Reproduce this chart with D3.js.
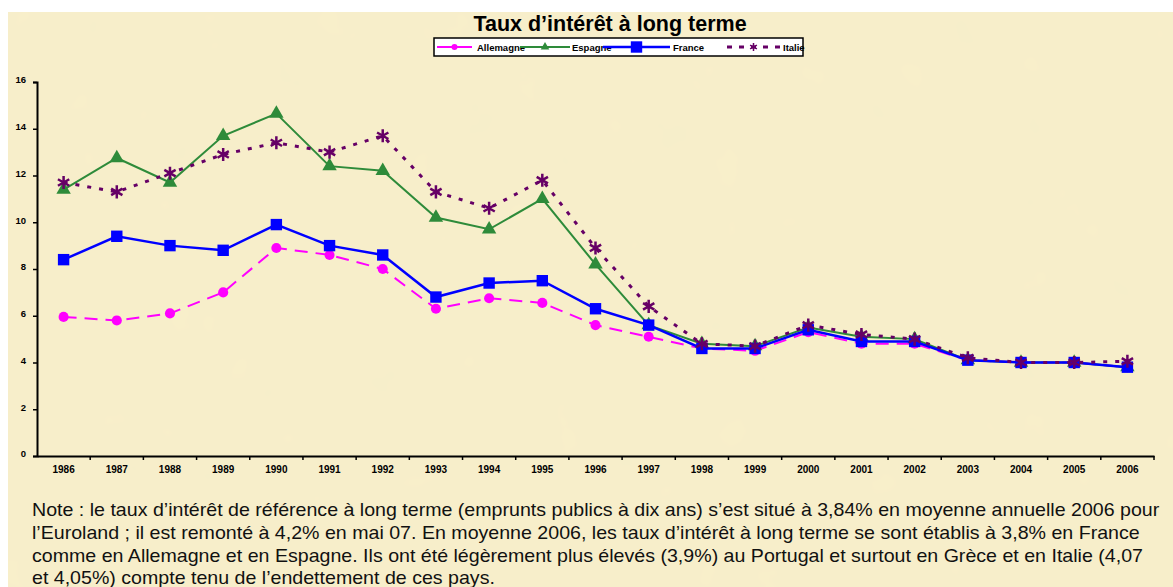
<!DOCTYPE html>
<meta charset="utf-8">
<style>
  body { margin: 0; background: #fff; }
  svg text { font-family: "Liberation Sans", Arial, sans-serif; }
  .tick text { font-weight: bold; fill: #000; }
</style>
<body>
<script src="https://d3js.org/d3.v7.min.js"></script>
<div id="chart"></div>
<script>
// données
var years = ["1986","1987","1988","1989","1990","1991","1992","1993","1994","1995","1996",
             "1997","1998","1999","2000","2001","2002","2003","2004","2005","2006"];
var allemagne = [5.95, 5.8, 6.1, 7.0, 8.9, 8.6, 8.0, 6.3, 6.75, 6.55, 5.6, 5.1, 4.6, 4.5, 5.3, 4.8, 4.8, 4.1, 4.0, 4.0, 3.8];
var espagne   = [11.4, 12.75, 11.7, 13.7, 14.65, 12.4, 12.2, 10.2, 9.7, 11.0, 8.2, 5.6, 4.8, 4.7, 5.5, 5.1, 5.0, 4.1, 4.0, 4.0, 3.8];
var france    = [8.4, 9.4, 9.0, 8.8, 9.9, 9.0, 8.6, 6.8, 7.4, 7.5, 6.3, 5.6, 4.6, 4.6, 5.4, 4.9, 4.9, 4.1, 4.0, 4.0, 3.8];
var italie    = [11.7, 11.3, 12.1, 12.9, 13.4, 13.0, 13.7, 11.3, 10.6, 11.8, 8.9, 6.4, 4.8, 4.7, 5.6, 5.2, 5.0, 4.2, 4.0, 4.0, 4.05];
var yTicks = [0, 2, 4, 6, 8, 10, 12, 14, 16];

var noteLines = [
  "Note : le taux d\u2019intérêt de référence à long terme (emprunts publics à dix ans) s\u2019est situé à 3,84% en moyenne annuelle 2006 pour",
  "l\u2019Euroland ; il est remonté à 4,2% en mai 07. En moyenne 2006, les taux d\u2019intérêt à long terme se sont établis à 3,8% en France",
  "comme en Allemagne et en Espagne. Ils ont été légèrement plus élevés (3,9%) au Portugal et surtout en Grèce et en Italie (4,07",
  "et 4,05%) compte tenu de l\u2019endettement de ces pays."
];

var series = [
  {name: "Allemagne", values: allemagne, color: "#ff00ff", width: 2, dash: "13,8", marker: "circle"},
  {name: "Espagne",   values: espagne,   color: "#2e8b3a", width: 2, dash: null,   marker: "triangle"},
  {name: "France",    values: france,    color: "#0000ff", width: 2.5, dash: null, marker: "square"},
  {name: "Italie",    values: italie,    color: "#660066", width: 3, dash: "4,8",  marker: "star"}
];

var width = 1173, height = 587;
var svg = d3.select("#chart").append("svg")
    .attr("width", width).attr("height", height);

// fond papier
var defs = svg.append("defs");
var filt = defs.append("filter").attr("id", "paper").attr("x", 0).attr("y", 0)
    .attr("width", "100%").attr("height", "100%");
filt.append("feTurbulence").attr("type", "fractalNoise").attr("baseFrequency", 0.02)
    .attr("numOctaves", 3).attr("seed", 4).attr("result", "noise");
filt.append("feColorMatrix").attr("in", "noise").attr("type", "matrix")
    .attr("values", "0 0 0 0 0.80  0 0 0 0 0.76  0 0 0 0 0.55  0 0 0 0.10 0")
    .attr("result", "tint");
filt.append("feComposite").attr("in", "tint").attr("in2", "SourceGraphic").attr("operator", "over");

svg.append("rect").attr("x", 8).attr("y", 12).attr("width", width - 8).attr("height", height - 12)
    .attr("fill", "#f8efca").attr("filter", "url(#paper)");

var margin = {left: 37, right: 19, top: 82, bottom: 131};

var x = d3.scaleBand().domain(years).range([margin.left, width - margin.right]);
var y = d3.scaleLinear().domain([0, 16]).range([height - margin.bottom, margin.top]);

// titre
svg.append("text").attr("x", 610).attr("y", 31).attr("text-anchor", "middle")
    .style("font-weight", "bold").style("font-size", "21.5px").text("Taux d\u2019intérêt à long terme");

// axes
var yAxis = svg.append("g").attr("transform", "translate(" + margin.left + ",0)")
    .call(d3.axisLeft(y).tickValues(yTicks).tickSize(4).tickPadding(7));
yAxis.selectAll("text").attr("dy", "0.1em").style("font-size", "9.5px");

var xAxis = svg.append("g").attr("transform", "translate(0," + y(0) + ")")
    .call(d3.axisBottom(x).tickSize(0).tickPadding(10));
xAxis.selectAll("text").style("font-size", "10px");
xAxis.selectAll(".tick").append("line")
    .attr("x1", x.bandwidth() / 2).attr("x2", x.bandwidth() / 2)
    .attr("y1", 0).attr("y2", 4).attr("stroke", "#000").attr("stroke-width", 1.5);

svg.selectAll(".domain").attr("stroke", "#000").attr("stroke-width", 2);
yAxis.selectAll(".tick line").attr("stroke-width", 1.5);

var cx = function(i) { return x(years[i]) + x.bandwidth() / 2; };

var line = d3.line()
    .x(function(d, i) { return cx(i); })
    .y(function(d) { return y(d); });

var symbols = {
  circle: d3.symbol().type(d3.symbolCircle).size(80),
  triangle: d3.symbol().type(d3.symbolTriangle).size(90),
  square: d3.symbol().type(d3.symbolSquare).size(130),
  star: d3.symbol().type(d3.symbolAsterisk).size(120)
};

function drawMarker(g, s, px, py, scale) {
  var p = g.append("path")
      .attr("transform", "translate(" + px + "," + py + ")" + (scale ? " scale(" + scale + ")" : ""))
      .attr("d", symbols[s.marker]());
  if (s.marker === "star") {
    p.attr("fill", "none").attr("stroke", s.color).attr("stroke-width", 2.5);
  } else {
    p.attr("fill", s.color);
  }
}

// ordre de dessin : Allemagne, Espagne, France, Italie
series.forEach(function(s) {
  var g = svg.append("g");
  g.append("path").datum(s.values).attr("d", line)
      .attr("fill", "none").attr("stroke", s.color).attr("stroke-width", s.width)
      .attr("stroke-dasharray", s.dash);
  s.values.forEach(function(v, i) { drawMarker(g, s, cx(i), y(v)); });
});

// légende
var lg = svg.append("g");
lg.append("rect").attr("x", 434).attr("y", 38).attr("width", 369).attr("height", 18)
    .attr("fill", "#fff").attr("stroke", "#000").attr("stroke-width", 1.5);
var legendPos = [
  {x1: 437, x2: 472, tx: 477},
  {x1: 520, x2: 570, tx: 572},
  {x1: 603, x2: 670, tx: 673},
  {x1: 727, x2: 780, tx: 783}
];
series.forEach(function(s, i) {
  var p = legendPos[i], ly = 47;
  lg.append("line").attr("x1", p.x1).attr("x2", p.x2).attr("y1", ly).attr("y2", ly)
      .attr("stroke", s.color).attr("stroke-width", s.width)
      .attr("stroke-dasharray", s.dash ? (s.marker === "star" ? "5,7" : null) : null);
  drawMarker(lg, s, (p.x1 + p.x2) / 2, ly, s.marker === "square" ? 1 : 0.6);
  lg.append("text").attr("x", p.tx).attr("y", ly + 3.5)
      .style("font-size", "9.5px").style("font-weight", "bold").text(s.name);
});

// note
svg.append("g").selectAll("text").data(noteLines).enter().append("text")
    .attr("transform", function(d, i) { return "translate(32," + (516 + i * 22.8) + ") scale(1.06,1)"; })
    .style("font-size", "18.5px").attr("fill", "#111")
    .text(function(d) { return d; });
</script>
</body>
</html>
